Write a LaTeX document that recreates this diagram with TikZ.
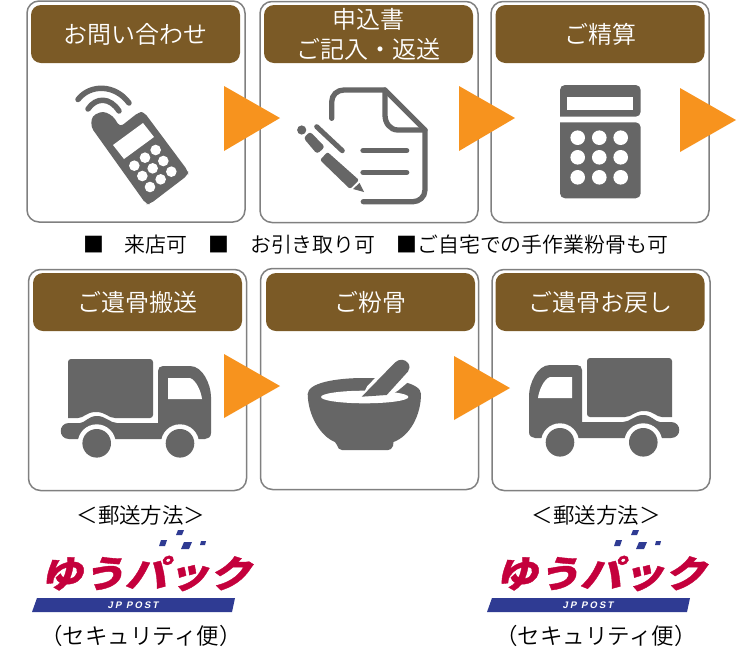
\documentclass[tikz,border=0pt]{standalone}
\usepackage{fontspec}
\setmainfont{Noto Sans CJK JP DemiLight}
\newfontfamily\logofont[FakeSlant=0.25,FakeStretch=1.14,FakeBold=1]{Noto Sans CJK JP Black}
\newfontfamily\jpfont[LetterSpace=22,FakeSlant=0.2]{Liberation Sans Bold}
\definecolor{hdr}{HTML}{7B5A26}
\definecolor{edgegray}{HTML}{808080}
\definecolor{icon}{HTML}{666666}
\definecolor{orng}{HTML}{F7931E}
\definecolor{lred}{HTML}{C4003C}
\definecolor{lblue}{HTML}{2F3B93}
\tikzset{
  card/.style={draw=edgegray,line width=1.5pt,fill=white,rounded corners=12pt,minimum width=218pt,minimum height=221pt,inner sep=0pt,outer sep=0pt},
  hbox/.style={fill=hdr,rounded corners=10pt,minimum width=209pt,minimum height=58pt,inner sep=0pt,outer sep=0pt,text=white,align=center,font=\fontsize{24}{30}\selectfont},
  arrowtri/.style={fill=orng},
  iconline/.style={draw=icon,line cap=round,line join=round},
  plain/.style={inner sep=0pt,outer sep=0pt,text=black},
  pics/truck/.style={code={
    \fill[icon,rounded corners=3pt] (68,418) -- (68,359) -- (153,359) -- (153,418) [sharp corners] -- (115,418) .. controls (108,418) and (106,412) .. (96,412) .. controls (86,412) and (84,418) .. (78,418) -- cycle;
    \fill[icon] (69,423) -- (80,423) .. controls (85,423) and (88,416) .. (97,416) .. controls (106,416) and (110,423) .. (117,423) -- (158,423) -- (158,371) .. controls (158,368) and (160,366) .. (163,366) -- (190,366) .. controls (203,366) and (211,385) .. (211,397) -- (211,433) .. controls (211,437) and (208,439) .. (205,439) -- (69,439) .. controls (58,439) and (58,423) .. (69,423) -- cycle;
    \fill[white] (168,378) -- (190,378) .. controls (196,380) and (201,391) .. (202,399) -- (168,399) -- cycle;
    \fill[white] (96.7,443.3) circle (19);
    \fill[white] (180,443.3) circle (19);
    \fill[icon] (96.7,443.3) circle (14.3);
    \fill[icon] (180,443.3) circle (14.3);
  }},
  pics/yupack/.style={code={
    \fill[lblue] (32,612) -- (37,598) -- (235,598) -- (232,612) -- cycle;
    \fill[lblue] (178,530) -- (184,530) -- (182,535) -- (176,535) -- cycle;
    \fill[lblue] (161,540) -- (167,540) -- (165,546) -- (159,546) -- cycle;
    \fill[lblue] (184,542) -- (192,542) -- (189,549) -- (181,549) -- cycle;
    \fill[lblue] (201,541) -- (206,541) -- (205,545) -- (200,545) -- cycle;
    \node[plain,text=lred] (-logotext) at (146,573.5) {\logofont\fontsize{37}{37}\selectfont ゆうパック};
    \node[plain,text=white] (-logosub) at (133,605) {\jpfont\fontsize{9.5}{9.5}\selectfont JP POST};
  }}
}
\begin{document}
\begin{tikzpicture}[x=1pt,y=-1pt]
\useasboundingbox (0,0) rectangle (740,654);
\fill[white] (0,0) rectangle (740,654);

% cards
\node[card] (c1) at (136,111.5) {};
\node[card] (c2) at (369,112) {};
\node[card] (c3) at (600,112) {};
\node[card] (c4) at (137.5,380) {};
\node[card] (c5) at (369.5,379) {};
\node[card] (c6) at (601,380) {};

% headers
\node[hbox] (h1) at (135.5,34) {\raisebox{2pt}{お問い合わせ}};
\node[hbox] (h2) at (368.5,34) {申込書\\ご記入・返送};
\node[hbox] (h3) at (600,34) {ご精算};
\node[hbox] (h4) at (137.5,302) {ご遺骨搬送};
\node[hbox] (h5) at (370.5,302) {ご粉骨};
\node[hbox] (h6) at (600,302) {ご遺骨お戻し};

% phone
\draw[iconline,line width=5.5pt] (78,99.5) .. controls (90,84) and (115,84) .. (129,103);
\draw[iconline,line width=5.5pt] (88,109) .. controls (96,97) and (110,97) .. (119,111);
\fill[icon,rounded corners=4pt] (91,127) -- (146,204) -- (150,204) -- (188,175) -- (188,171) -- (144,112) -- (139,112) -- (120,127) -- (113,116) -- (103,111) -- (92,116) -- cycle;
\fill[white] (113,145) -- (143,123) -- (154,137) -- (124,159) -- cycle;
\foreach \bx/\by in {467/450,435/473,403/497,490/483,458/505,427/528,514/515,482/538,450/561}
  \fill[white] ({\bx/3},{\by/3}) circle (5.3);

% document
\draw[iconline,line width=5.3pt] (331.7,118.3) -- (331.7,102) .. controls (331.7,95) and (337,90) .. (344,90) -- (385,90) -- (425,130) -- (425,190) .. controls (425,197) and (419,201.7) .. (413,201.7) -- (363.3,201.7);
\draw[iconline,line width=5.3pt] (385,90) -- (385,115) .. controls (385,123) and (390,130) .. (398,130) -- (425,130);
\draw[iconline,line width=5.3pt] (363,150.7) -- (406.7,150.7);
\draw[iconline,line width=5.3pt] (363,172.3) -- (406.7,172.3);
% pen
\fill[icon] (301.7,130) circle (4.6);
\draw[iconline,line width=5pt] (316.7,126.7) -- (342.3,150.7);
\fill[icon,rounded corners=3pt] (303.5,138) -- (310,131.5) -- (325,147) -- (317,154) -- cycle;
\fill[icon,rounded corners=2pt] (320,160) -- (327.5,152) -- (359,180) -- (350,189) -- cycle;
\fill[icon] (353,189) -- (359.5,183) -- (364,192) -- cycle;

% calculator
\fill[icon,rounded corners=5pt] (560,116.7) -- (560,85) -- (640.7,85) -- (640.7,116.7) [sharp corners] -- cycle;
\fill[icon,rounded corners=5pt] (560,122.3) -- (560,198.3) -- (640.7,198.3) -- (640.7,122.3) [sharp corners] -- cycle;
\fill[white] (566.7,96.7) rectangle (633.3,110);
\foreach \bx in {577.7,599.3,620.7}
  \foreach \by in {137.7,157.3,177.3}
    \fill[white] (\bx,\by) circle (7.3);

% trucks
\pic (t1) at (0,0) {truck};
\pic[xscale=-1] (t2) at (740,-1) {truck};

% mortar bowl
\fill[icon] (307.7,394) .. controls (308,383) and (335,378) .. (364.3,378) .. controls (394,378) and (421,383) .. (421,394) .. controls (421,415) and (410,436) .. (393.5,442) -- (393,446) .. controls (392,449) and (390,450) .. (388,450) -- (342,450) .. controls (339,450) and (338,448) .. (337,445) -- (335,442) .. controls (320,436) and (308,415) .. (307.7,394) -- cycle;
\fill[white] (364.7,397) ellipse (43.7 and 6.3);
\fill[white] (362,397) -- (367,386.5) -- (396,356) -- (415,372) -- (407,383) -- (398,390.5) -- (388,397) -- cycle;
\fill[icon] (361.7,396.7) -- (395,362.5) .. controls (399,358.5) and (405,359) .. (408,363) .. controls (410,366) and (410,369) .. (408,371.5) -- (386.7,395) -- cycle;

% orange arrows
\fill[arrowtri] (224,86) -- (224,151) -- (280,118) -- cycle;
\fill[arrowtri] (459,86) -- (459,151) -- (515,118) -- cycle;
\fill[arrowtri] (680,88) -- (680,152) -- (736,120) -- cycle;
\fill[arrowtri] (224,354) -- (224,418) -- (280,386) -- cycle;
\fill[arrowtri] (454,356) -- (454,420) -- (510,388) -- cycle;

% middle line
\node[plain,anchor=west,font=\fontsize{20.9}{21}\selectfont] (note) at (83,245) {■　来店可　■　お引き取り可　■ご自宅での手作業粉骨も可};

% bottom
\node[plain,font=\fontsize{21.5}{22}\selectfont] (m1) at (141,515) {＜郵送方法＞};
\node[plain,font=\fontsize{21.5}{22}\selectfont] (m2) at (596,515) {＜郵送方法＞};
\pic (l1) at (0,0) {yupack};
\pic (l2) at (455,0) {yupack};
\node[plain,font=\fontsize{22.5}{23}\selectfont] (s1) at (141,636) {（セキュリティ便）};
\node[plain,font=\fontsize{22.5}{23}\selectfont] (s2) at (596,636) {（セキュリティ便）};
\end{tikzpicture}
\end{document}
